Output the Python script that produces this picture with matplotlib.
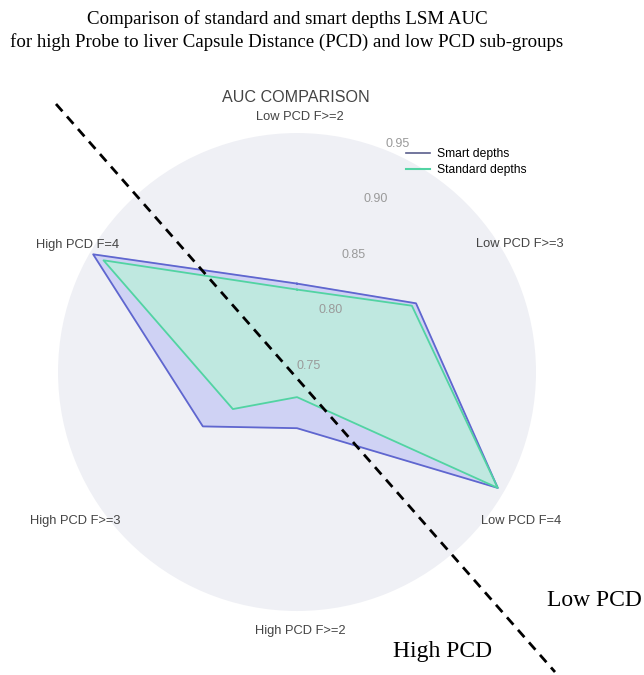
import numpy as np
from matplotlib import pyplot as plt
from matplotlib.lines import Line2D
from matplotlib.transforms import offset_copy

categories = ["Low PCD F>=2", "Low PCD F>=3", "Low PCD F=4",
              "High PCD F>=2", "High PCD F>=3", "High PCD F=4"]
smart_depths = [0.824, 0.865, 0.944, 0.797, 0.841, 0.947]
standard_depths = [0.819, 0.861, 0.944, 0.771, 0.812, 0.937]
radial_ticks = [0.75, 0.80, 0.85, 0.90, 0.95]

SMART_COLOR = "#5f66cf"
SMART_FILL = "#cfd2f4"
STANDARD_COLOR = "#52d3a3"
STANDARD_FILL = "#bfe8e0"
LABEL_COLOR = "#444444"

fig = plt.figure(figsize=(6.44, 6.75), dpi=100)
ax = fig.add_axes([0.0901, 0.0948, 0.7422, 0.7081], projection="polar")
ax.set_theta_offset(np.pi / 2)
ax.set_theta_direction(-1)
ax.set_ylim(0.75, 0.95)
ax.set_facecolor("#eff0f5")
ax.spines["polar"].set_visible(False)
ax.grid(False)
ax.set_xticks([])
ax.set_yticks([])

angles = np.linspace(0, 2 * np.pi, len(categories), endpoint=False)
closed = np.append(angles, angles[0])
smart = np.append(smart_depths, smart_depths[0])
standard = np.append(standard_depths, standard_depths[0])

ax.fill(closed, smart, color=SMART_FILL, zorder=2)
ax.fill(closed, standard, color=STANDARD_FILL, zorder=3)
ax.plot(closed, smart, color=SMART_COLOR, lw=1.3, zorder=4)
ax.plot(closed, standard, color=STANDARD_COLOR, lw=1.3, zorder=5)

# angular labels sit just outside the disk, nudged like the original
label_r = [0.965, 0.975, 0.975, 0.966, 0.975, 0.963]
label_shift = [(3, -2), (-10, -6), (-9, -15), (3, -1), (11, -15), (1, 0)]
for ang, name, r, (dx, dy) in zip(angles, categories, label_r, label_shift):
    trans = offset_copy(ax.transData, fig=fig, x=dx, y=dy, units="dots")
    ax.text(ang, r, name, transform=trans, ha="center", va="center",
            fontsize=9.3, color=LABEL_COLOR, family="Liberation Sans",
            clip_on=False)

# radial tick labels along a tilted axis
tick_trans = offset_copy(ax.transData, fig=fig, x=11.5, y=6.5, units="dots")
for t in radial_ticks:
    ax.text(np.deg2rad(22), t, f"{t:.2f}", transform=tick_trans, ha="center",
            va="center", fontsize=9, color="#9a9a9a", family="Liberation Sans",
            clip_on=False, zorder=6)

fig.text(0.46, 0.856, "AUC COMPARISON", ha="center", va="center",
         fontsize=11.6, color=LABEL_COLOR, family="Liberation Sans")

handles = [Line2D([], [], color="#5a5f8c", lw=1.2),
           Line2D([], [], color=STANDARD_COLOR, lw=1.5)]
fig.legend(handles, ["Smart depths", "Standard depths"], loc="upper left",
           bbox_to_anchor=(0.614, 0.797), frameon=False,
           handlelength=2.0, handletextpad=0.55, labelspacing=0.35,
           prop={"family": "Liberation Sans", "size": 8.7})

# figure titles
fig.text(0.447, 0.972, "Comparison of standard and smart depths LSM AUC",
         ha="center", va="center", fontsize=13.6, family="Liberation Serif")
fig.text(0.015, 0.937,
         "for high Probe to liver Capsule Distance (PCD) and low PCD sub-groups",
         ha="left", va="center", fontsize=13.6, family="Liberation Serif")

# dividing line between sub-groups
fig.add_artist(Line2D([56 / 644, 555 / 644], [1 - 104 / 675, 1 - 672 / 675],
                      transform=fig.transFigure, color="black", lw=2,
                      linestyle=(0, (3.5, 2.5))))
fig.text(594 / 644, 1 - 600 / 675, "Low PCD", ha="center", va="center",
         fontsize=17, family="Liberation Serif")
fig.text(443 / 644, 1 - 652 / 675, "High PCD", ha="center", va="center",
         fontsize=17, family="Liberation Serif")

fig.savefig("out.png", dpi=100)
